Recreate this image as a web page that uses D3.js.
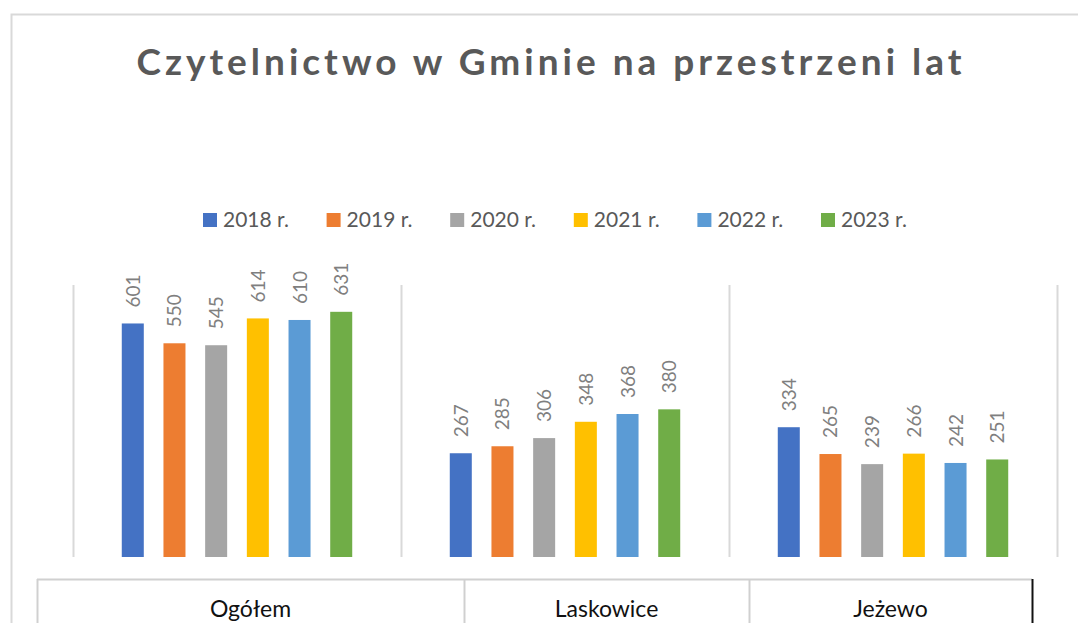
<!DOCTYPE html>
<html>
<head>
<meta charset="utf-8">
<script src="https://cdn.jsdelivr.net/npm/d3@7"></script>
<style>
  body { margin: 0; background: #fff; }
  svg { display: block; font-family: Lato, "Open Sans", sans-serif; }
</style>
</head>
<body>
<div id="chart"></div>
<script>
const categories = ['Ogółem', 'Laskowice', 'Jeżewo']
const years = ['2018 r.', '2019 r.', '2020 r.', '2021 r.', '2022 r.', '2023 r.']
const ogolem = [601, 550, 545, 614, 610, 631]
const laskowice = [267, 285, 306, 348, 368, 380]
const jezewo = [334, 265, 239, 266, 242, 251]
const colors = ['#4472c4', '#ed7d31', '#a5a5a5', '#ffc000', '#5b9bd5', '#70ad47']

const seriesByCategory = [ogolem, laskowice, jezewo]

const width = 1078
const height = 623
const plot = { left: 73, right: 1057, top: 285, bottom: 557 }

const svg = d3.select('#chart')
  .append('svg')
  .attr('width', width)
  .attr('height', height)

// chart area border (only top and left are visible in the crop)
svg.append('path')
  .attr('d', `M11.5,${height} V14.5 H${width}`)
  .attr('fill', 'none')
  .attr('stroke', '#d9d9d9')
  .attr('stroke-width', 2)

svg.append('text')
  .attr('x', 551)
  .attr('y', 75)
  .attr('text-anchor', 'middle')
  .attr('fill', '#595959')
  .style('font-size', '37px')
  .style('font-weight', 'bold')
  .style('letter-spacing', '4px')
  .text('Czytelnictwo w Gminie na przestrzeni lat')

// legend
const legend = svg.append('g')
  .selectAll('g')
  .data(years)
  .join('g')
  .attr('transform', (d, i) => `translate(${203 + i * 123.6}, 213)`)

legend.append('rect')
  .attr('width', 14)
  .attr('height', 14)
  .attr('fill', (d, i) => colors[i])

legend.append('text')
  .attr('x', 20)
  .attr('y', 14)
  .attr('fill', '#595959')
  .style('font-size', '21px')
  .text(d => d)

const x0 = d3.scaleBand()
  .domain(categories)
  .range([plot.left, plot.right])

const x1 = d3.scaleBand()
  .domain(years)
  .range([0, x0.bandwidth()])
  .paddingInner(0.472)
  .paddingOuter(1.17)

const y = d3.scaleLinear()
  .domain([0, 700])
  .range([plot.bottom, plot.top])

// vertical separators between categories
const seps = [...categories.map(c => x0(c)), plot.right]
svg.append('g')
  .selectAll('line')
  .data(seps)
  .join('line')
  .attr('x1', d => d + 0.5)
  .attr('x2', d => d + 0.5)
  .attr('y1', plot.top)
  .attr('y2', plot.bottom)
  .attr('stroke', '#d9d9d9')
  .attr('stroke-width', 2)

const groups = svg.append('g')
  .selectAll('g')
  .data(categories)
  .join('g')
  .attr('transform', d => `translate(${x0(d)},0)`)

const rows = (c, ci) => seriesByCategory[ci].map((v, i) => ({ year: years[i], value: v, i }))

groups.selectAll('rect')
  .data(rows)
  .join('rect')
  .attr('x', d => x1(d.year))
  .attr('y', d => y(d.value))
  .attr('width', x1.bandwidth())
  .attr('height', d => y(0) - y(d.value))
  .attr('fill', d => colors[d.i])

groups.selectAll('text')
  .data(rows)
  .join('text')
  .attr('transform', d => `translate(${x1(d.year) + x1.bandwidth() / 2 + 7}, ${y(d.value) - 16}) rotate(-90)`)
  .attr('fill', '#7f7f7f')
  .style('font-size', '19px')
  .text(d => d.value)

// category table below the plot
const cells = [37, 464, 749, 1032]
const table = svg.append('g')
table.append('line')
  .attr('x1', cells[0]).attr('x2', cells[3])
  .attr('y1', 579.5).attr('y2', 579.5)
  .attr('stroke', '#d0d0d0').attr('stroke-width', 2)
table.selectAll('line.div')
  .data(cells.slice(0, 3))
  .join('line')
  .attr('class', 'div')
  .attr('x1', d => d + 0.5).attr('x2', d => d + 0.5)
  .attr('y1', 579).attr('y2', height)
  .attr('stroke', '#d0d0d0').attr('stroke-width', 2)
table.append('line')
  .attr('x1', cells[3] + 0.5).attr('x2', cells[3] + 0.5)
  .attr('y1', 579).attr('y2', height)
  .attr('stroke', '#111').attr('stroke-width', 2)

table.selectAll('text')
  .data(categories)
  .join('text')
  .attr('x', (d, i) => (cells[i] + cells[i + 1]) / 2)
  .attr('y', 617)
  .attr('text-anchor', 'middle')
  .attr('fill', '#111')
  .style('font-size', '23px')
  .text(d => d)
</script>
</body>
</html>
